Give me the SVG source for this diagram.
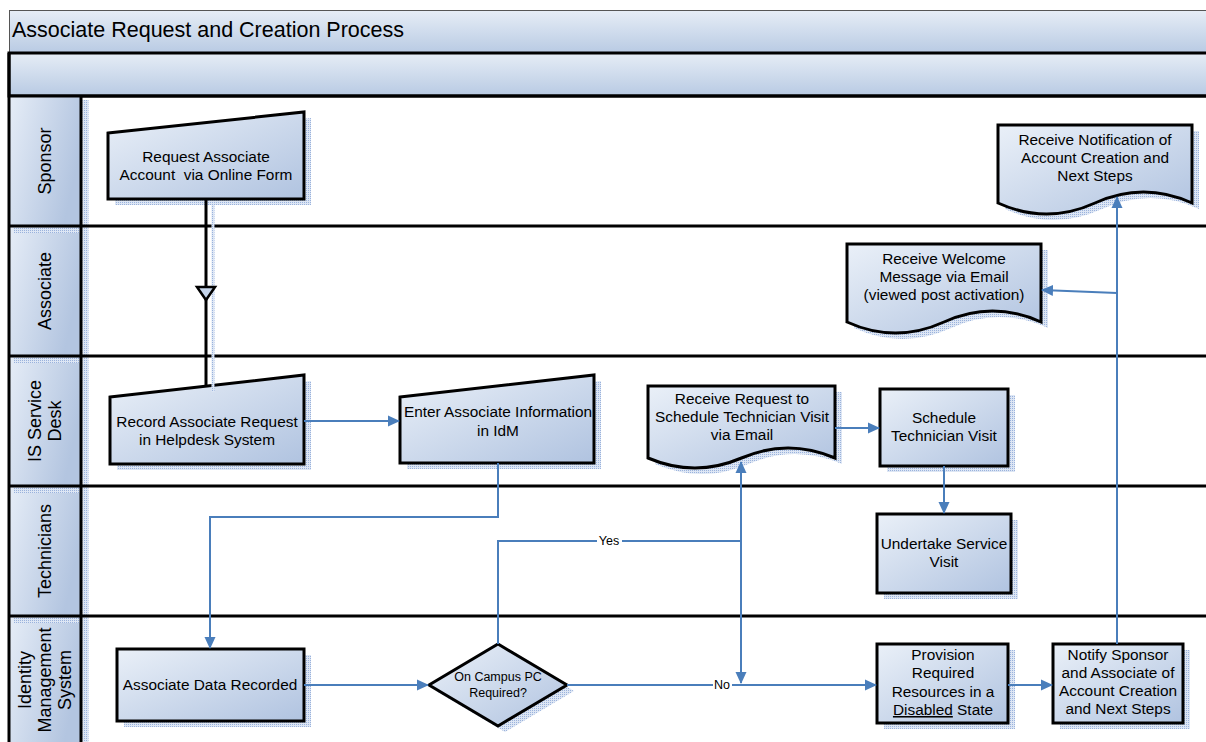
<svg xmlns="http://www.w3.org/2000/svg" width="1206" height="742" viewBox="0 0 1206 742">
<style>
.node{fill:url(#ng);stroke:#000;stroke-width:3;stroke-linejoin:miter}
.shadow{fill:url(#dots)}
.lh{fill:url(#lg)}
.lt{font-family:"Liberation Sans",Arial,sans-serif;font-size:18px;fill:#000;text-anchor:middle}
.t{font-family:"Liberation Sans",Arial,sans-serif;font-size:15.4px;fill:#000;text-anchor:middle}
.ts{font-family:"Liberation Sans",Arial,sans-serif;font-size:12.5px;fill:#000;text-anchor:middle}
.c{fill:none;stroke:#4a7ebb;stroke-width:2}
.sep{stroke:#000;stroke-width:3;fill:none}
</style>
<defs>
<linearGradient id="ng" x1="0" y1="0" x2="1" y2="1">
<stop offset="0" stop-color="#eaf0f8"/>
<stop offset="1" stop-color="#b0c3e0"/>
</linearGradient>
<linearGradient id="lg" x1="0" y1="0" x2="1" y2="0.4">
<stop offset="0" stop-color="#e6edf7"/>
<stop offset="1" stop-color="#b3c5e0"/>
</linearGradient>
<linearGradient id="tg" x1="0" y1="0" x2="0" y2="1">
<stop offset="0" stop-color="#e6edf6"/>
<stop offset="1" stop-color="#b8cae3"/>
</linearGradient>
<pattern id="dots" width="2" height="2" patternUnits="userSpaceOnUse">
<rect width="2" height="2" fill="#dde6f4"/>
<rect width="1" height="1" fill="#9ab2dc"/>
</pattern>
<marker id="ah" markerUnits="userSpaceOnUse" markerWidth="12" markerHeight="12" viewBox="0 0 12 12" refX="11" refY="6" orient="auto">
<path d="M0,0.5 L12,6 L0,11.5 Z" fill="#4a7ebb"/>
</marker>
</defs>
<rect width="1206" height="742" fill="#fff"/>

<g id="title">
<rect x="9.5" y="10.5" width="1205" height="43" fill="url(#tg)" stroke="#555" stroke-width="1"/>
<text x="12" y="37" font-family="'Liberation Sans',Arial,sans-serif" font-size="21.5px" fill="#000">Associate Request and Creation Process</text>
<rect x="9" y="53" width="1205" height="43" fill="url(#tg)" stroke="#000" stroke-width="3"/>
</g>

<g id="lanes">
<rect class="lh" x="9" y="96" width="72" height="130"/>
<rect class="lh" x="9" y="226" width="72" height="130"/>
<rect class="lh" x="9" y="356" width="72" height="130"/>
<rect class="lh" x="9" y="486" width="72" height="130"/>
<rect class="lh" x="9" y="616" width="72" height="130"/>
<rect class="shadow" x="82.5" y="100" width="6" height="642"/>
<rect class="shadow" x="14" y="228" width="68" height="5"/>
<rect class="shadow" x="14" y="358" width="68" height="5"/>
<rect class="shadow" x="14" y="488" width="68" height="5"/>
<rect class="shadow" x="14" y="618" width="68" height="5"/>
<path class="sep" d="M9,96 H1206 M9,226 H1206 M9,356 H1206 M9,486 H1206 M9,616 H1206 M9,53 V742 M81,96 V742"/>
<text class="lt" transform="translate(51,161) rotate(-90)">Sponsor</text>
<text class="lt" transform="translate(51,291) rotate(-90)">Associate</text>
<text class="lt" transform="translate(41,421) rotate(-90)">IS Service</text>
<text class="lt" transform="translate(61,421) rotate(-90)">Desk</text>
<text class="lt" transform="translate(51,551) rotate(-90)">Technicians</text>
<text class="lt" transform="translate(31,680) rotate(-90)">Identity</text>
<text class="lt" transform="translate(51,680) rotate(-90)">Management</text>
<text class="lt" transform="translate(71,680) rotate(-90)">System</text>
</g>

<g id="n-request">
<polygon class="shadow" points="115,139 311,118 311,205 115,205"/>
<polygon class="node" points="108,133 304,112 304,199 108,199"/>
<text class="t" x="206" y="162">Request Associate</text>
<text class="t" x="206" y="180" xml:space="preserve">Account  via Online Form</text>
</g>

<g id="n-record">
<polygon class="shadow" points="117,403 311,381 311,470 117,470"/>
<polygon class="node" points="110,397 304,375 304,464 110,464"/>
<text class="t" x="207" y="427">Record Associate Request</text>
<text class="t" x="207" y="445">in Helpdesk System</text>
</g>

<g id="n-enter">
<polygon class="shadow" points="407,403 601,381 601,469 407,469"/>
<polygon class="node" points="400,397 594,375 594,463 400,463"/>
<text class="t" x="498" y="417">Enter Associate Information</text>
<text class="t" x="498" y="436">in IdM</text>
</g>

<g id="n-recorded">
<rect class="shadow" x="124" y="655" width="187" height="72"/>
<rect class="node" x="117" y="649" width="187" height="72"/>
<text class="t" x="210" y="690">Associate Data Recorded</text>
</g>

<g id="n-decision">
<polygon class="shadow" points="436,691 505,650 574,691 505,732"/>
<polygon class="node" points="429,685 498,644 567,685 498,726"/>
<text class="ts" x="498" y="681">On Campus PC</text>
<text class="ts" x="498" y="697">Required?</text>
</g>

<g id="n-receive-request">
<path class="shadow" d="M655,392 H842 V464 Q795,444 748.5,464 Q702,484 655,464 Z"/>
<path class="node" d="M648,386 H835 V458 Q788,438 741.5,458 Q695,478 648,458 Z"/>
<text class="t" x="742" y="404">Receive Request to</text>
<text class="t" x="742" y="422">Schedule Technician Visit</text>
<text class="t" x="742" y="440">via Email</text>
</g>

<g id="n-schedule">
<rect class="shadow" x="887" y="395" width="128" height="77"/>
<rect class="node" x="880" y="389" width="128" height="77"/>
<text class="t" x="944" y="423">Schedule</text>
<text class="t" x="944" y="441">Technician Visit</text>
</g>

<g id="n-undertake">
<rect class="shadow" x="884" y="520" width="134" height="79"/>
<rect class="node" x="877" y="514" width="134" height="79"/>
<text class="t" x="944" y="549">Undertake Service</text>
<text class="t" x="944" y="567">Visit</text>
</g>

<g id="n-provision">
<rect class="shadow" x="884" y="650" width="131" height="79"/>
<rect class="node" x="877" y="644" width="131" height="79"/>
<text class="t" x="943" y="660">Provision</text>
<text class="t" x="943" y="678">Required</text>
<text class="t" x="943" y="697">Resources in a</text>
<text class="t" x="943" y="715"><tspan text-decoration="underline">Disabled</tspan> State</text>
</g>

<g id="n-notify">
<rect class="shadow" x="1060" y="650" width="130" height="79"/>
<rect class="node" x="1053" y="644" width="130" height="79"/>
<text class="t" x="1118" y="660">Notify Sponsor</text>
<text class="t" x="1118" y="678">and Associate of</text>
<text class="t" x="1118" y="696">Account Creation</text>
<text class="t" x="1118" y="714">and Next Steps</text>
</g>

<g id="n-notification">
<path class="shadow" d="M1005,131 H1199 V209 Q1150.5,187 1102,209 Q1053.5,231 1005,209 Z"/>
<path class="node" d="M998,125 H1192 V203 Q1143.5,181 1095,203 Q1046.5,225 998,203 Z"/>
<text class="t" x="1095" y="145">Receive Notification of</text>
<text class="t" x="1095" y="163">Account Creation and</text>
<text class="t" x="1095" y="181">Next Steps</text>
</g>

<g id="n-welcome">
<path class="shadow" d="M854,250 H1048 V328 Q999.5,306 951,328 Q902.5,350 854,328 Z"/>
<path class="node" d="M847,244 H1041 V322 Q992.5,300 944,322 Q895.5,344 847,322 Z"/>
<text class="t" x="944" y="264">Receive Welcome</text>
<text class="t" x="944" y="282">Message via Email</text>
<text class="t" x="944" y="300">(viewed post activation)</text>
</g>

<g id="connectors">
<line x1="213" y1="205" x2="213" y2="392" stroke="url(#dots)" stroke-width="3"/>
<line x1="206" y1="199" x2="206" y2="386" stroke="#000" stroke-width="3"/>
<polygon points="197,287 215,287 206,300" fill="#c5d4ea" stroke="#000" stroke-width="2.5" stroke-linejoin="miter"/>
<path class="c" d="M304,421 H399" marker-end="url(#ah)"/>
<path class="c" d="M498,463 V517 H210 V648" marker-end="url(#ah)"/>
<path class="c" d="M304,685 H428" marker-end="url(#ah)"/>
<path class="c" d="M498,644 V541 H741 V462" marker-end="url(#ah)"/>
<path class="c" d="M741,541 V683" marker-end="url(#ah)"/>
<path class="c" d="M567,685 H876" marker-end="url(#ah)"/>
<path class="c" d="M835,428 H879" marker-end="url(#ah)"/>
<path class="c" d="M944,466 V513" marker-end="url(#ah)"/>
<path class="c" d="M1008,685 H1052" marker-end="url(#ah)"/>
<path class="c" d="M1117,644 V197" marker-end="url(#ah)"/>
<path class="c" d="M1117,293 L1042,290" marker-end="url(#ah)"/>
<rect x="597" y="534" width="25" height="14" fill="#fff"/>
<text class="ts" x="609" y="545">Yes</text>
<rect x="713" y="678" width="19" height="14" fill="#fff"/>
<text class="ts" x="722" y="689">No</text>
</g>
</svg>
